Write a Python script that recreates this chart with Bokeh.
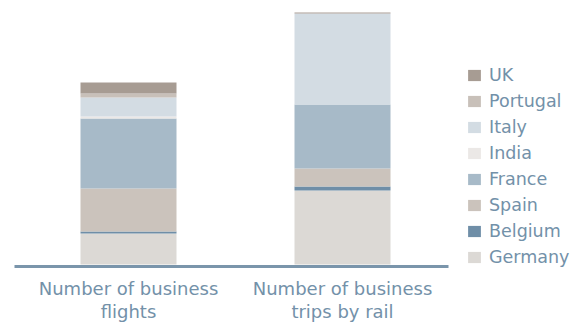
from bokeh.plotting import figure
from bokeh.models import ColumnDataSource, Range1d, FixedTicker, Legend, LegendItem
from bokeh.embed import file_html
from bokeh.resources import INLINE

categories = ["Number of business\nflights", "Number of business\ntrips by rail"]
countries = ["Germany", "Belgium", "Spain", "France", "India", "Italy", "Portugal", "UK"]
germany = [31, 74]
belgium = [2, 4]
spain = [43, 18]
france = [70, 64]
india = [2, 0]
italy = [19, 91]
portugal = [4, 0]
uk = [11, 1]
colors = ["#dcd9d5", "#6f8ea7", "#cbc3bc", "#a7bac8", "#ebe8e6", "#d3dce3", "#c8c0b9", "#a79c93"]

text_color = "#7391a9"
font = "DejaVu Sans"

xs = [i + 0.5 for i in range(len(categories))]
data = dict(x=xs, Germany=germany, Belgium=belgium, Spain=spain, France=france,
            India=india, Italy=italy, Portugal=portugal, UK=uk)
source = ColumnDataSource(data)

p = figure(frame_width=434, frame_height=258, output_backend="svg", toolbar_location=None,
           x_range=Range1d(-0.0327, 1.9953), y_range=Range1d(-2, 256),
           min_border_left=14, min_border_top=8, min_border_right=128, min_border_bottom=56,
           outline_line_color=None)

renderers = p.vbar_stack(countries, x="x", width=0.4486, source=source,
                         fill_color=colors, line_color=None)

p.xgrid.visible = False
p.ygrid.visible = False
p.yaxis.visible = False

ax = p.xaxis[0]
ax.ticker = FixedTicker(ticks=xs)
ax.major_label_overrides = {x: c for x, c in zip(xs, categories)}
ax.axis_line_color = "#7a95ab"
ax.axis_line_width = 3
ax.major_tick_line_color = None
ax.minor_tick_line_color = None
ax.major_label_text_color = text_color
ax.major_label_text_font = font
ax.major_label_text_font_size = "18px"
ax.major_label_text_line_height = 1.12
ax.major_label_standoff = 5

items = [LegendItem(label=c, renderers=[r]) for c, r in zip(countries, renderers)][::-1]
legend = Legend(items=items, location=(18, -1), padding=0, margin=0,
                border_line_color=None, background_fill_alpha=0,
                glyph_width=16, glyph_height=14, label_height=14, spacing=6,
                label_standoff=7, label_text_font=font, label_text_font_size="17.5px",
                label_text_color=text_color)
p.add_layout(legend, "right")

open("out.html", "w").write(file_html(p, INLINE))
